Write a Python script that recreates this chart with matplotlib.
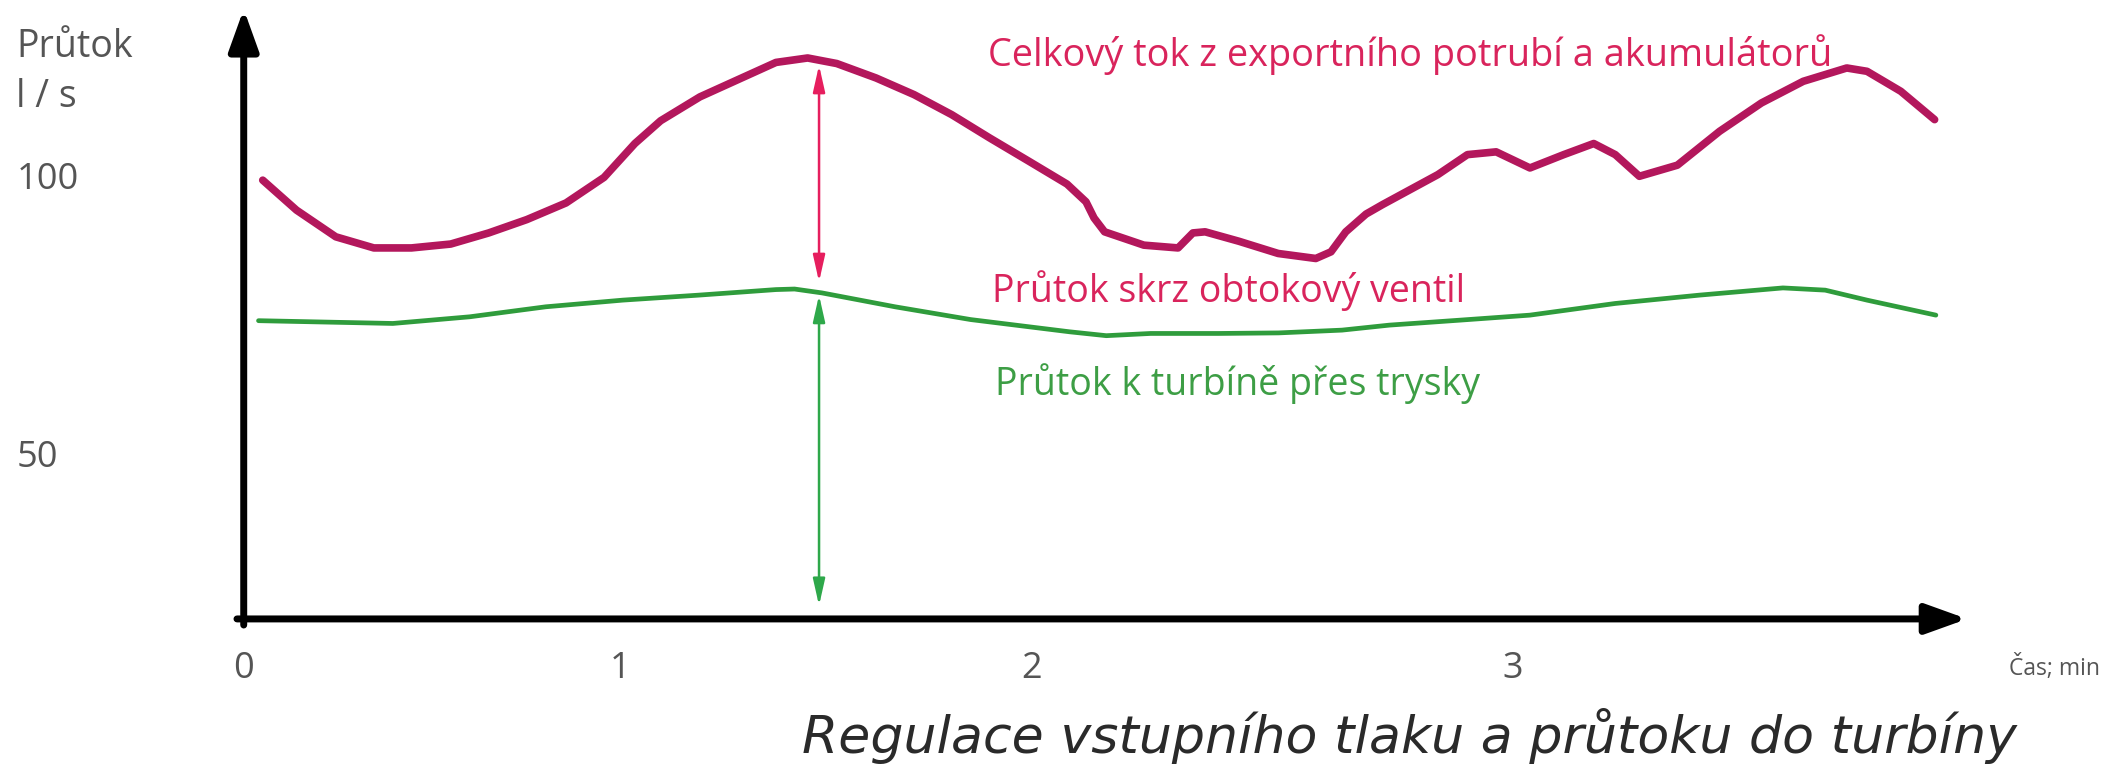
import matplotlib.pyplot as plt

# celkovy tok (cas v min, prutok l/s)
red_t = [0.045, 0.125, 0.218, 0.308, 0.397, 0.490, 0.580, 0.670, 0.763, 0.853,
         0.926, 0.987, 1.080, 1.170, 1.260, 1.335, 1.404, 1.497, 1.587, 1.676,
         1.766, 1.859, 1.949, 1.994, 2.013, 2.038, 2.131, 2.212, 2.247, 2.276,
         2.356, 2.449, 2.538, 2.574, 2.609, 2.657, 2.696, 2.827, 2.897, 2.965,
         3.045, 3.125, 3.196, 3.247, 3.304, 3.394, 3.494, 3.593, 3.692, 3.795,
         3.843, 3.923, 4.003]
red_q = [100.0, 94.6, 89.8, 87.8, 87.8, 88.5, 90.5, 92.9, 95.9, 100.5,
         106.6, 110.7, 115.0, 118.1, 121.2, 122.0, 121.0, 118.4, 115.4, 111.8,
         107.6, 103.4, 99.3, 96.1, 93.2, 90.7, 88.3, 87.8, 90.5, 90.7,
         89.0, 86.8, 85.9, 87.1, 90.7, 93.9, 95.6, 101.0, 104.6, 105.1,
         102.2, 104.6, 106.6, 104.6, 100.7, 102.7, 108.8, 113.9, 117.8, 120.2,
         119.6, 116.0, 110.9]

# prutok k turbine
green_t = [0.035, 0.353, 0.535, 0.715, 0.897, 1.077, 1.260, 1.304, 1.369, 1.542,
           1.721, 1.955, 2.042, 2.147, 2.308, 2.450, 2.600, 2.712, 2.880, 3.045,
           3.247, 3.446, 3.644, 3.744, 3.843, 4.006]
green_q = [74.7, 74.2, 75.4, 77.2, 78.4, 79.3, 80.3, 80.4, 79.7, 77.2,
           74.9, 72.7, 72.0, 72.4, 72.4, 72.5, 73.0, 73.9, 74.8, 75.7,
           77.8, 79.3, 80.6, 80.2, 78.4, 75.7]

xtick_pos = [0, 0.891, 1.865, 3.003]
xtick_lab = ['0', '1', '2', '3']
ytick_pos = [100, 50]
ytick_lab = ['100', '50']

arrow_t = 1.362
red_span = (120.7, 81.7)
green_span = (79.3, 23.4)

fig = plt.figure(figsize=(21.23, 7.64), dpi=100)
ax = fig.add_axes([0, 0, 1, 1])
ax.set_xlim(-0.577, 4.449)
ax.set_ylim(-5.12, 132.44)
ax.axis('off')

red_line = '#b3175c'
red_txt = '#d9245c'
green_line = '#2f9c3c'
green_txt = '#3d9e45'
grey = '#555555'
font = ['Open Sans', 'DejaVu Sans']

# osy se sipkami
axis_arrow = dict(arrowstyle='-|>,head_length=1.0,head_width=0.36',
                  lw=5, color='black', mutation_scale=25, shrinkA=0, shrinkB=0)
ax.annotate('', xy=(0, 130.8), xytext=(0, 19.9), arrowprops=axis_arrow)
ax.annotate('', xy=(4.08, 21.0), xytext=(-0.016, 21.0), arrowprops=axis_arrow)
for xt, lab in zip(xtick_pos, xtick_lab):
    if xt > 0:
        ax.plot([xt, xt], [19.6, 20.6], color='white', lw=1.5)
    ax.text(xt, 12.0, lab, ha='center', va='center', fontsize=26, color=grey, family=font)
for yt, lab in zip(ytick_pos, ytick_lab):
    ax.text(-0.538, yt, lab, ha='left', va='center', fontsize=26, color=grey, family=font)

ax.text(-0.538, 123.9, 'Průtok', ha='left', va='center', fontsize=27, color=grey, family=font)
ax.text(-0.538, 114.9, 'l / s', ha='left', va='center', fontsize=27, color=grey, family=font)
ax.text(4.18, 12.2, 'Čas; min', ha='left', va='center', fontsize=16.5, color=grey, family=font)

# krivky
ax.plot(red_t, red_q, color=red_line, lw=5.5, solid_capstyle='round', solid_joinstyle='round')
ax.plot(green_t, green_q, color=green_line, lw=3.4, solid_capstyle='round', solid_joinstyle='round')

# dvojite sipky
ax.annotate('', xy=(arrow_t, red_span[0]), xytext=(arrow_t, red_span[1]),
            arrowprops=dict(arrowstyle='<|-|>,head_length=0.8,head_width=0.18',
                            lw=1.8, color='#e61e5e', mutation_scale=20, shrinkA=0, shrinkB=0))
ax.annotate('', xy=(arrow_t, green_span[0]), xytext=(arrow_t, green_span[1]),
            arrowprops=dict(arrowstyle='<|-|>,head_length=0.8,head_width=0.18',
                            lw=1.8, color='#2ea84a', mutation_scale=20, shrinkA=0, shrinkB=0))

ax.text(1.763, 122.7, 'Celkový tok z exportního potrubí a akumulátorů', ha='left', va='center',
        fontsize=27.3, color=red_txt, family=font)
ax.text(1.772, 80.2, 'Průtok skrz obtokový ventil', ha='left', va='center',
        fontsize=27, color=red_txt, family=font)
ax.text(1.779, 63.4, 'Průtok k turbíně přes trysky', ha='left', va='center',
        fontsize=27, color=green_txt, family=font)

ax.text(2.76, 0.0, 'Regulace vstupního tlaku a průtoku do turbíny', ha='center', va='center',
        fontsize=37.5, style='italic', weight='light', color='#2a2a2a', family=['DejaVu Sans'])

fig.savefig('out.png', dpi=100)
